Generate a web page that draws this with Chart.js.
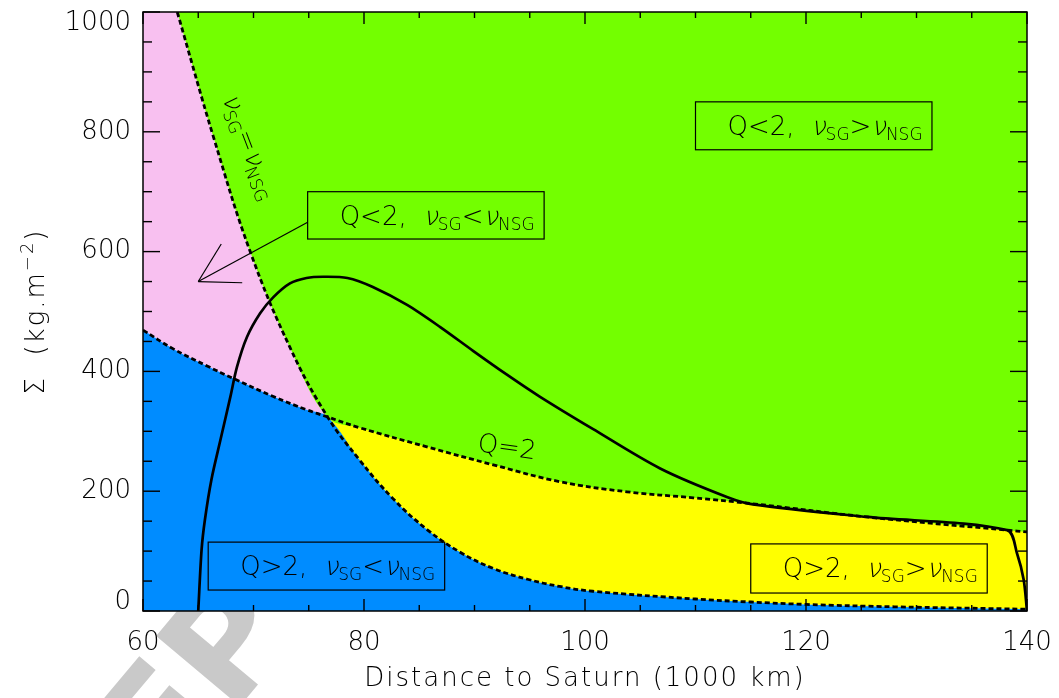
<!DOCTYPE html>
<html>
<head>
<meta charset="utf-8">
<script src="https://cdn.jsdelivr.net/npm/chart.js@4"></script>
<style>
  body { margin: 0; background: #fff; }
  canvas { display: block; }
</style>
</head>
<body>
<canvas id="ringChart" width="1059" height="698"></canvas>
<script>
// nu_SG = nu_NSG boundary (dotted)
var nuX = [63.1, 66.4, 69.7, 73.3, 76.7, 79.6, 82.6, 85.7, 88.7, 91.7, 94.8, 97.7, 100.7, 110.0, 115.0, 120.0, 128.0, 140.0];
var nuY = [1000, 790, 600, 440, 324, 252, 188, 136, 98, 71, 53, 41, 33, 20, 15, 11, 7, 3];

// Q = 2 boundary (dotted)
var qX = [60.0, 62.7, 65.8, 68.2, 71.8, 74.8, 76.7, 79.6, 85.7, 91.7, 97.7, 103.8, 109.8, 115.2, 125.5, 138.2, 140.0];
var qY = [469, 438, 409, 388, 358, 336, 324, 306, 274, 244, 216, 199, 189, 179, 157, 135, 132];

// surface density profile (solid)
var sigmaX = [65.0, 65.3, 65.6, 66.2, 67.0, 67.9, 68.5, 69.4, 70.6, 71.8, 73.3, 74.8, 76.3, 78.5, 80.8, 83.9, 86.9, 89.9, 92.9, 95.9, 100.7, 106.8, 112.9, 115.2, 125.5, 138.2, 139.1, 139.7, 140.0];
var sigmaY = [0, 102, 152, 220, 285, 357, 407, 457, 497, 524, 547, 556, 558, 556, 541, 511, 474, 434, 395, 358, 304, 238, 190, 178, 157, 135, 96, 52, 0];

// where the two boundaries cross
var crossX = 76.7;

var xTicks = [60, 80, 100, 120, 140];
var yTicks = [0, 200, 400, 600, 800, 1000];
var xMinorStep = 5;
var yMinorStep = 50;

var FAMILY = '"DejaVu Sans", sans-serif';
var WEIGHT = '200 ';
var GREEN = 'rgb(115,255,0)';
var PINK = 'rgb(248,192,240)';
var BLUE = 'rgb(0,140,255)';
var YELLOW = 'rgb(255,255,0)';

function pts(xs, ys, from, to, openFrom) {
    var out = [];
    for (var i = 0; i < xs.length; i++) {
        var ok = openFrom ? xs[i] > from : xs[i] >= from;
        if (ok && xs[i] <= to) out.push({ x: xs[i], y: ys[i] });
    }
    return out;
}

var nuRight = pts(nuX, nuY, crossX, 200);
var qLeft = pts(qX, qY, 0, crossX);
var upperEnv = pts(nuX, nuY, 0, crossX).concat(pts(qX, qY, crossX, 200, true));
var lowerEnv = qLeft.concat(pts(nuX, nuY, crossX, 200, true));

// labels in boxes (data units for the box corners)
var boxes = [
    { x0: 110.0, x1: 131.4, y0: 770, y1: 850, parts: [{ t: 'Q<2,  ' }, { t: 'ν', it: true }, { t: 'SG', sub: true }, { t: '>' }, { t: 'ν', it: true }, { t: 'NSG', sub: true }] },
    { x0: 74.9, x1: 96.3, y0: 621, y1: 700, parts: [{ t: 'Q<2,  ' }, { t: 'ν', it: true }, { t: 'SG', sub: true }, { t: '<' }, { t: 'ν', it: true }, { t: 'NSG', sub: true }] },
    { x0: 65.9, x1: 87.3, y0: 35, y1: 115, parts: [{ t: 'Q>2,  ' }, { t: 'ν', it: true }, { t: 'SG', sub: true }, { t: '<' }, { t: 'ν', it: true }, { t: 'NSG', sub: true }] },
    { x0: 115.0, x1: 136.4, y0: 30, y1: 112, parts: [{ t: 'Q>2,  ' }, { t: 'ν', it: true }, { t: 'SG', sub: true }, { t: '>' }, { t: 'ν', it: true }, { t: 'NSG', sub: true }] }
];

function fontFor(p, big, small) {
    var size = (p.sub || p.sup) ? small : big;
    return WEIGHT + size + 'px ' + FAMILY;
}

// draws text pieces with sub/superscripts; "it" pieces get a slant
function drawRich(ctx, parts, x, y, big, small) {
    var cx = x;
    parts.forEach(function (p) {
        ctx.font = fontFor(p, big, small);
        var dy = p.sub ? 5 : (p.sup ? -11 : 0);
        if (p.it) {
            ctx.save();
            ctx.translate(cx, y + dy);
            ctx.transform(1, 0, -0.22, 1, 0, 0);
            ctx.fillText(p.t, 0, 0);
            ctx.restore();
        } else {
            ctx.fillText(p.t, cx, y + dy);
        }
        cx += ctx.measureText(p.t).width;
    });
    return cx - x;
}

function richWidth(ctx, parts, big, small) {
    var w = 0;
    parts.forEach(function (p) {
        ctx.font = fontFor(p, big, small);
        w += ctx.measureText(p.t).width;
    });
    return w;
}

function seg(ctx, x1, y1, x2, y2) {
    ctx.beginPath();
    ctx.moveTo(x1, y1);
    ctx.lineTo(x2, y2);
    ctx.stroke();
}

var decor = {
    id: 'decor',
    beforeDraw: function (chart) {
        var ctx = chart.ctx;
        ctx.save();
        ctx.fillStyle = '#fff';
        ctx.fillRect(0, 0, chart.width, chart.height);
        // faint watermark behind the plot
        ctx.font = 'bold 150px ' + FAMILY;
        var pre = ctx.measureText('ACCE').width;
        var wp = ctx.measureText('P').width;
        var th = -50 * Math.PI / 180;
        var lx = pre + wp / 2, ly = -0.36 * 150;
        var ox = 225 - (lx * Math.cos(th) - ly * Math.sin(th));
        var oy = 640 - (lx * Math.sin(th) + ly * Math.cos(th));
        ctx.translate(ox, oy);
        ctx.rotate(th);
        ctx.fillStyle = '#c9c9c9';
        ctx.fillText('ACCEPTED', 0, 0);
        ctx.restore();
    },
    afterDraw: function (chart) {
        var ctx = chart.ctx, xs = chart.scales.x, ys = chart.scales.y, a = chart.chartArea;
        ctx.save();
        ctx.strokeStyle = '#000';
        ctx.fillStyle = '#000';

        // frame and inward ticks
        ctx.lineWidth = 1.5;
        ctx.strokeRect(a.left, a.top, a.right - a.left, a.bottom - a.top);
        ctx.lineWidth = 1.4;
        var v, p, len;
        for (v = xs.min; v <= xs.max; v += xMinorStep) {
            p = xs.getPixelForValue(v);
            len = xTicks.indexOf(v) >= 0 ? 12 : 6;
            seg(ctx, p, a.bottom, p, a.bottom - len);
            seg(ctx, p, a.top, p, a.top + len);
        }
        for (v = ys.min; v <= ys.max; v += yMinorStep) {
            p = ys.getPixelForValue(v);
            len = yTicks.indexOf(v) >= 0 ? 17 : 9;
            seg(ctx, a.left, p, a.left + len, p);
            seg(ctx, a.right, p, a.right - len, p);
        }

        // tick labels
        ctx.font = WEIGHT + '26px ' + FAMILY;
        ctx.textBaseline = 'middle';
        ctx.textAlign = 'center';
        xTicks.forEach(function (t) {
            ctx.fillText(String(t), xs.getPixelForValue(t), a.bottom + 32);
        });
        ctx.textAlign = 'right';
        yTicks.forEach(function (t) {
            var py = Math.min(Math.max(ys.getPixelForValue(t), a.top + 11), a.bottom - 9);
            ctx.fillText(String(t), a.left - 12, py);
        });

        // axis titles
        ctx.textBaseline = 'alphabetic';
        ctx.textAlign = 'center';
        ctx.font = WEIGHT + '26px ' + FAMILY;
        ctx.letterSpacing = '2px';
        ctx.fillText('Distance to Saturn (1000 km)', (a.left + a.right) / 2, 686);
        ctx.letterSpacing = '0px';

        ctx.save();
        ctx.translate(44, (a.top + a.bottom) / 2);
        ctx.rotate(-Math.PI / 2);
        ctx.textAlign = 'left';
        ctx.letterSpacing = '2px';
        var yt = [{ t: 'Σ  (kg.m' }, { t: '−2', sup: true }, { t: ')' }];
        var w = richWidth(ctx, yt, 26, 18);
        drawRich(ctx, yt, -w / 2, 0, 26, 18);
        ctx.restore();
        ctx.letterSpacing = '0px';

        // boxed region labels
        ctx.textAlign = 'left';
        ctx.lineWidth = 1.2;
        boxes.forEach(function (b) {
            var l = xs.getPixelForValue(b.x0), r = xs.getPixelForValue(b.x1);
            var t = ys.getPixelForValue(b.y1), bt = ys.getPixelForValue(b.y0);
            ctx.strokeRect(l, t, r - l, bt - t);
            drawRich(ctx, b.parts, l + 32, t + 33, 26, 17);
        });

        // arrow from the pink-region label
        var tx = xs.getPixelForValue(74.9), ty = ys.getPixelForValue(649);
        var hx = xs.getPixelForValue(65), hy = ys.getPixelForValue(550);
        ctx.lineWidth = 1.2;
        seg(ctx, tx, ty, hx, hy);
        var ang = Math.atan2(ty - hy, tx - hx);
        [ang - Math.PI / 6, ang + Math.PI / 6].forEach(function (q) {
            seg(ctx, hx, hy, hx + 44 * Math.cos(q), hy + 44 * Math.sin(q));
        });

        // curve labels
        ctx.save();
        ctx.translate(xs.getPixelForValue(67.15), ys.getPixelForValue(857));
        ctx.rotate(69 * Math.PI / 180);
        drawRich(ctx, [{ t: 'ν', it: true }, { t: 'SG', sub: true }, { t: '=' }, { t: 'ν', it: true }, { t: 'NSG', sub: true }], 0, 0, 26, 17);
        ctx.restore();

        ctx.save();
        ctx.translate(xs.getPixelForValue(90.2), ys.getPixelForValue(267));
        ctx.rotate(8 * Math.PI / 180);
        ctx.font = WEIGHT + '26px ' + FAMILY;
        ctx.fillText('Q=2', 0, 0);
        ctx.restore();

        ctx.restore();
    }
};

function curve(label, data, dashed, tension) {
    return {
        label: label,
        data: data,
        borderColor: '#000',
        borderWidth: dashed ? 2.8 : 2.7,
        borderDash: dashed ? [5, 3] : [],
        pointRadius: 0,
        fill: false,
        tension: tension
    };
}

function region(label, data, colour, target) {
    return {
        label: label,
        data: data,
        borderColor: 'rgba(0,0,0,0)',
        backgroundColor: colour,
        pointRadius: 0,
        fill: target,
        tension: 0.4
    };
}

var ringChart = new Chart(document.getElementById('ringChart').getContext('2d'), {
    type: 'line',
    data: {
        datasets: [
            curve('Sigma profile', pts(sigmaX, sigmaY, 0, 200), false, 0.3),
            curve('nu_SG = nu_NSG', pts(nuX, nuY, 0, 200), true, 0.4),
            curve('Q = 2', pts(qX, qY, 0, 200), true, 0.4),
            region('Q>2, SG<NSG', lowerEnv, BLUE, 'start'),
            region('Q<2, SG>NSG', upperEnv, GREEN, 'end'),
            region('Q>2, SG>NSG', nuRight, YELLOW, 'end'),
            region('Q<2, SG<NSG', qLeft, PINK, 'end')
        ]
    },
    options: {
        responsive: false,
        animation: false,
        layout: { padding: { left: 143, right: 32, top: 12, bottom: 87 } },
        scales: {
            x: { type: 'linear', min: 60, max: 140, display: false },
            y: { type: 'linear', min: 0, max: 1000, display: false }
        },
        plugins: {
            legend: { display: false },
            tooltip: { enabled: false }
        }
    },
    plugins: [decor]
});
</script>
</body>
</html>
